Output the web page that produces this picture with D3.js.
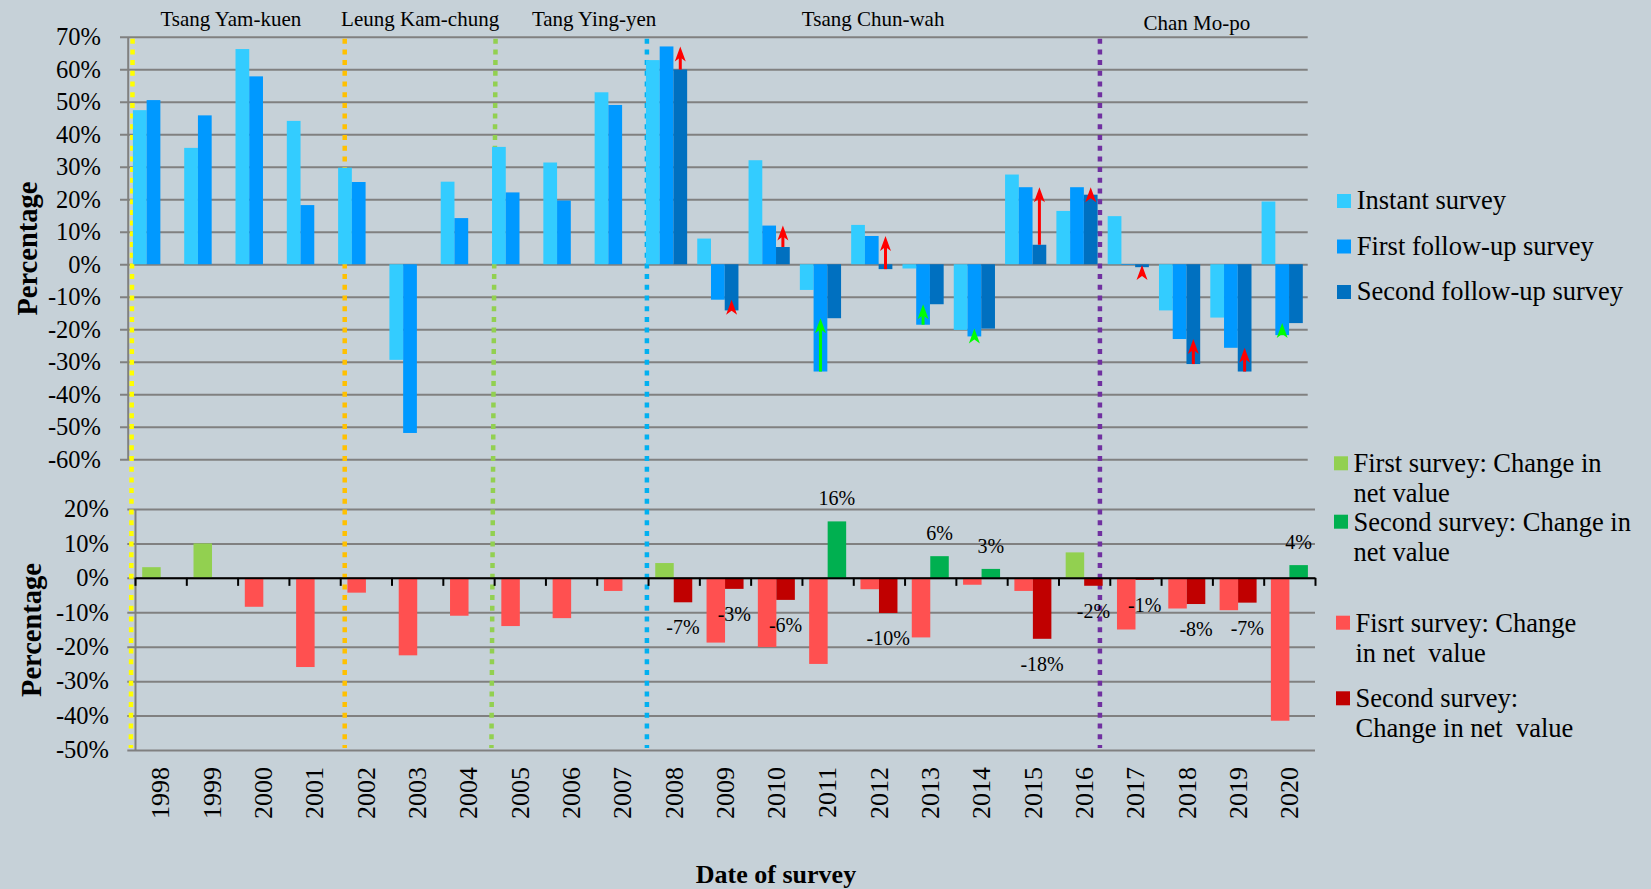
<!DOCTYPE html>
<html>
<head>
<meta charset="utf-8">
<script src="https://cdn.jsdelivr.net/npm/d3@7"></script>
<style>
  body { margin: 0; background: #c6d1d8; overflow: hidden; }
  svg { display: block; font-family: "Liberation Serif", "Times New Roman", serif; }
  text { white-space: pre; fill: #000; }
</style>
</head>
<body>
<svg id="chart" width="1651" height="889"></svg>
<script>
// survey years (one category each)
const years = ['1998','1999','2000','2001','2002','2003','2004','2005','2006','2007','2008',
  '2009','2010','2011','2012','2013','2014','2015','2016','2017','2018','2019','2020'];

// upper chart: net satisfaction (%)
const instant = [47.4, 35.8, 66.2, 44.1, 29.7, -29.4, 25.4, 36.1, 31.3, 52.9, 62.8,
  7.9, 32.0, -7.9, 12.1, -1.3, -20.2, 27.6, 16.4, 14.8, -14.2, -16.4, 19.3];
const firstFollowUp = [50.5, 45.8, 57.8, 18.2, 25.3, -51.9, 14.2, 22.1, 19.6, 49.0, 67.0,
  -10.9, 11.9, -33.0, 8.7, -18.6, -22.2, 23.7, 23.7, -0.2, -23.0, -25.7, -21.8];
const secondFollowUp = [null, null, null, null, null, null, null, null, null, null, 59.9,
  -14.2, 5.3, -16.6, -1.5, -12.3, -19.8, 6.0, 21.4, -0.9, -30.7, -33.0, -18.1];

// lower chart: change in net value (%)
const firstChange = [3.1, 10.0, -8.4, -25.9, -4.3, -22.5, -11.0, -14.0, -11.7, -3.8, 4.3,
  -18.8, -20.1, -25.0, -3.3, -17.3, -2.0, -3.8, 7.4, -15.0, -8.9, -9.4, -41.5];
const secondChange = [null, null, null, null, null, null, null, null, null, null, -7.1,
  -3.2, -6.4, 16.4, -10.2, 6.3, 2.6, -17.7, -2.3, -0.6, -7.6, -7.2, 3.7];

const topTicks = [70, 60, 50, 40, 30, 20, 10, 0, -10, -20, -30, -40, -50, -60];
const lowTicks = [20, 10, 0, -10, -20, -30, -40, -50];

const leaders = ['Tsang Yam-kuen', 'Leung Kam-chung', 'Tang Ying-yen', 'Tsang Chun-wah', 'Chan Mo-po'];
const topLegend = ['Instant survey', 'First follow-up survey', 'Second follow-up survey'];
const lowLegend = [
  ['First survey: Change in', 'net value'],
  ['Second survey: Change in', 'net value'],
  ['Fisrt survey: Change', 'in net  value'],
  ['Second survey:', 'Change in net  value']
];

// layout (in category units) for leader names and term dividers (top / bottom end)
const leaderAt = [2.01, 5.70, 9.09, 14.53, 20.84];
const termBreaksTop = [0.095, 4.23, 7.17, 10.12, 18.95];
const termBreaksBottom = [0.062, 4.23, 7.09, 10.12, 18.95];

const blues = ['#33ccff', '#0099ff', '#0070c0'];
const termColors = ['#ffff00', '#ffc000', '#92d050', '#00b0f0', '#7030a0'];
const changeColors = {firstUp: '#92d050', secondUp: '#00b050', firstDown: '#ff5050', secondDown: '#c00000'};
const gridColor = '#808080';

const loc = d3.formatLocale({decimal: '.', thousands: ',', grouping: [3], currency: ['', ''], minus: '-'});
const tickFmt = d => loc.format('d')(d) + '%';
const labelFmt = d => loc.format('.0f')(d) + '%';

const svg = d3.select('#chart');
svg.append('rect').attr('width', 1651).attr('height', 889).attr('fill', '#c6d1d8');

const upper = {left: 127.7, right: 1307.7, top: 36.7, bottom: 459.3};
const lower = {left: 135, right: 1315, top: 509, bottom: 750};

const xTop = d3.scaleBand().domain(years).range([upper.left, upper.right]);
const xTopSeries = d3.scaleBand().domain(['instant', 'first', 'second']).range([5.2, xTop.bandwidth() - 4.9]);
const yTop = d3.scaleLinear().domain([-60, 70]).range([upper.bottom, upper.top]);

const xLow = d3.scaleBand().domain(years).range([lower.left, lower.right]);
const xLowSeries = d3.scaleBand().domain(['first', 'second']).range([7.2, xLow.bandwidth() - 7.1]);
const yLow = d3.scaleLinear().domain([-50, 20]).range([lower.bottom, lower.top]);

const xIdx = d3.scaleLinear().domain([0, years.length]).range([upper.left, upper.right]);
const xLowIdx = d3.scaleLinear().domain([0, years.length]).range([lower.left, lower.right]);

// ---- y axes with gridlines
function yAxis(scale, ticks, box, pad) {
  const g = svg.append('g')
    .attr('transform', 'translate(' + box.left + ',0)')
    .call(d3.axisLeft(scale)
      .tickValues(ticks)
      .tickSizeInner(-(box.right - box.left))
      .tickSizeOuter(0)
      .tickPadding(pad)
      .tickFormat(tickFmt));
  g.attr('font-family', null).attr('font-size', null);
  g.select('.domain').attr('stroke', gridColor).attr('stroke-width', 2);
  g.selectAll('.tick line').attr('x1', -7.7).attr('stroke', gridColor).attr('stroke-width', 2);
  g.selectAll('.tick text').style('font-size', '24.5px').attr('fill', '#000');
  return g;
}
yAxis(yTop, topTicks, upper, 26.7);
yAxis(yLow, lowTicks, lower, 26);

// ---- term dividers (dotted)
svg.append('g').selectAll('line')
  .data(termBreaksTop)
  .join('line')
  .attr('x1', d => xIdx(d))
  .attr('x2', (d, i) => xIdx(termBreaksBottom[i]))
  .attr('y1', upper.top + 2).attr('y2', lower.bottom - 2)
  .attr('stroke', (d, i) => termColors[i])
  .attr('stroke-width', 4.5)
  .attr('stroke-dasharray', '5,5.7');

// ---- upper bars
const topSeries = [
  {key: 'instant', values: instant, color: blues[0]},
  {key: 'first', values: firstFollowUp, color: blues[1]},
  {key: 'second', values: secondFollowUp, color: blues[2]}
];
topSeries.forEach(function (s) {
  const data = years.map((y, i) => ({year: y, v: s.values[i]})).filter(d => d.v != null);
  svg.append('g').selectAll('rect')
    .data(data)
    .join('rect')
    .attr('x', d => xTop(d.year) + xTopSeries(s.key))
    .attr('width', xTopSeries.bandwidth())
    .attr('y', d => yTop(Math.max(d.v, 0)))
    .attr('height', d => Math.abs(yTop(d.v) - yTop(0)))
    .attr('fill', s.color);
});

// ---- arrows: from the lower follow-up value up to the higher one
const arrows = [];
years.forEach(function (y, i) {
  const a = firstFollowUp[i], b = secondFollowUp[i];
  if (b == null) return;
  const fell = b < a;
  arrows.push({
    year: y,
    slot: fell ? 'second' : 'first',
    from: Math.min(a, b),
    to: Math.max(a, b),
    color: fell ? '#ff0000' : '#00ff00'
  });
});
const arrowG = svg.append('g').selectAll('g')
  .data(arrows)
  .join('g')
  .attr('transform', d => 'translate(' + (xTop(d.year) + xTopSeries(d.slot) + xTopSeries.bandwidth() / 2) + ',' + yTop(d.to) + ')');
arrowG.filter(d => yTop(d.from) - yTop(d.to) > 11)
  .append('line')
  .attr('x1', 0).attr('x2', 0)
  .attr('y1', 10)
  .attr('y2', d => yTop(d.from) - yTop(d.to))
  .attr('stroke', d => d.color)
  .attr('stroke-width', 3);
arrowG.append('path')
  .attr('d', 'M0,0L5.5,15L0,11L-5.5,15Z')
  .attr('fill', d => d.color);

// ---- lower bars
const lowSeries = [
  {key: 'first', values: firstChange, up: changeColors.firstUp, down: changeColors.firstDown},
  {key: 'second', values: secondChange, up: changeColors.secondUp, down: changeColors.secondDown}
];
lowSeries.forEach(function (s) {
  const data = years.map((y, i) => ({year: y, v: s.values[i]})).filter(d => d.v != null);
  svg.append('g').selectAll('rect')
    .data(data)
    .join('rect')
    .attr('x', d => xLow(d.year) + xLowSeries(s.key))
    .attr('width', xLowSeries.bandwidth())
    .attr('y', d => yLow(Math.max(d.v, 0)))
    .attr('height', d => Math.abs(yLow(d.v) - yLow(0)))
    .attr('fill', d => d.v >= 0 ? s.up : s.down);
});

// data labels on the second survey change
const secondData = years.map((y, i) => ({year: y, v: secondChange[i]})).filter(d => d.v != null);
svg.append('g').selectAll('text')
  .data(secondData)
  .join('text')
  .attr('x', d => xLow(d.year) + xLowSeries('second') + xLowSeries.bandwidth() / 2)
  .attr('y', d => yLow(d.v) + (d.v < 0 ? 32 : -16))
  .attr('text-anchor', 'middle')
  .style('font-size', '20px')
  .text(d => labelFmt(d.v));

// zero axis with ticks between categories
const xAxisG = svg.append('g')
  .attr('transform', 'translate(0,' + yLow(0) + ')')
  .call(d3.axisBottom(xLowIdx).tickValues(d3.range(0, years.length + 1)).tickSize(8).tickSizeOuter(0).tickFormat(''));
xAxisG.select('.domain').attr('stroke', '#000').attr('stroke-width', 2);
xAxisG.selectAll('.tick line').attr('stroke', '#000').attr('stroke-width', 2);

// year labels
const yearG = svg.append('g')
  .attr('transform', 'translate(0,767)')
  .call(d3.axisBottom(xLow).tickSize(0).tickPadding(0));
yearG.attr('font-family', null).attr('font-size', null);
yearG.select('.domain').remove();
yearG.selectAll('.tick text')
  .attr('transform', 'rotate(-90)')
  .attr('x', 0).attr('y', 0).attr('dy', '0.34em')
  .style('text-anchor', 'end')
  .style('font-size', '26px')
  .attr('fill', '#000');

// ---- titles
svg.append('g').selectAll('text')
  .data(leaders)
  .join('text')
  .attr('x', (d, i) => xIdx(leaderAt[i]))
  .attr('y', (d, i) => i === leaders.length - 1 ? 29.5 : 25.5)
  .attr('text-anchor', 'middle')
  .style('font-size', '21px')
  .text(d => d);

svg.append('text')
  .attr('transform', 'translate(36.5,248.6) rotate(-90)')
  .attr('text-anchor', 'middle')
  .style('font-size', '28.5px').style('font-weight', 'bold')
  .text('Percentage');
svg.append('text')
  .attr('transform', 'translate(40.5,630) rotate(-90)')
  .attr('text-anchor', 'middle')
  .style('font-size', '28.5px').style('font-weight', 'bold')
  .text('Percentage');
svg.append('text')
  .attr('x', 776).attr('y', 883)
  .attr('text-anchor', 'middle')
  .style('font-size', '26px').style('font-weight', 'bold')
  .text('Date of survey');

// ---- legends
const topLeg = svg.append('g').selectAll('g')
  .data(topLegend)
  .join('g')
  .attr('transform', (d, i) => 'translate(1337,' + (209 + i * 45.5) + ')');
topLeg.append('rect').attr('x', 0).attr('y', -15).attr('width', 14).attr('height', 14)
  .attr('fill', (d, i) => blues[i]);
topLeg.append('text').attr('x', 19.7).attr('y', 0)
  .style('font-size', '26.5px').text(d => d);

const lowLegColors = [changeColors.firstUp, changeColors.secondUp, changeColors.firstDown, changeColors.secondDown];
const lowLegPos = [[1334, 472.3], [1334, 530.7], [1336, 631.7], [1336, 707.3]];
const lowLeg = svg.append('g').selectAll('g')
  .data(lowLegend)
  .join('g')
  .attr('transform', (d, i) => 'translate(' + lowLegPos[i][0] + ',' + lowLegPos[i][1] + ')');
lowLeg.append('rect').attr('x', 0).attr('y', -16).attr('width', 14).attr('height', 14)
  .attr('fill', (d, i) => lowLegColors[i]);
lowLeg.each(function (lines) {
  d3.select(this).selectAll('text')
    .data(lines)
    .join('text')
    .attr('x', 19.5)
    .attr('y', (d, j) => j * 30)
    .style('font-size', '26.5px')
    .text(d => d);
});
</script>
</body>
</html>
